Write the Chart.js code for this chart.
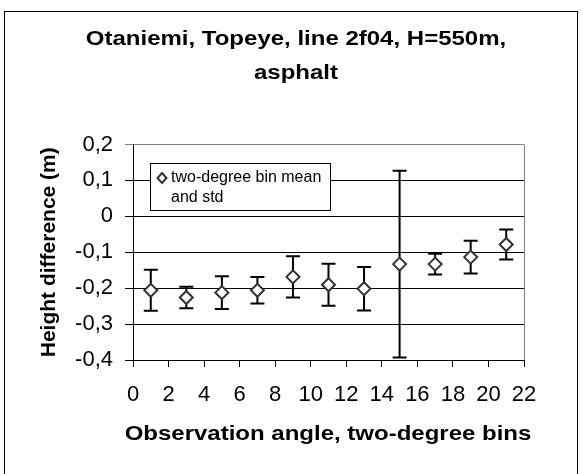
<!DOCTYPE html>
<html>
<head>
<meta charset="utf-8">
<script src="https://cdn.jsdelivr.net/npm/chart.js@4.4.1/dist/chart.umd.min.js"></script>
<style>
  body { margin: 0; background: #fff; }
  #myChart { display: block; }
</style>
</head>
<body>
<canvas id="myChart" width="583" height="474"></canvas>
<script>
const angles = [1, 3, 5, 7, 9, 11, 13, 15, 17, 19, 21];
const meanDiff = [-0.206, -0.226, -0.2125, -0.206, -0.1685, -0.1905, -0.2015, -0.133, -0.133, -0.1135, -0.0785];
const stdDiff = [0.057, 0.030, 0.0455, 0.037, 0.0575, 0.0585, 0.0605, 0.260, 0.029, 0.0455, 0.0415];

const titleLines = ['Otaniemi, Topeye, line 2f04, H=550m,', 'asphalt'];
const legendLines = ['two-degree bin mean', 'and std'];
const xTitle = 'Observation angle, two-degree bins';
const yTitle = 'Height difference (m)';

const fontFam = 'Arial, "Liberation Sans", sans-serif';

const points = angles.map(function (a, i) {
  return { x: a, y: meanDiff[i] };
});

function fmtComma(v) {
  if (Math.abs(v) < 1e-9) return '0';
  return v.toFixed(1).replace('.', ',');
}

// the source picture is a bit wider than tall, so text is stretched sideways
function wideText(c, txt, cx, cy) {
  c.save();
  c.translate(cx, cy);
  c.scale(1.2, 1);
  c.fillText(txt, 0, 0);
  c.restore();
}

const errorBars = {
  id: 'errorBars',
  beforeDatasetsDraw(chart) {
    const c = chart.ctx;
    const xs = chart.scales.x, ys = chart.scales.y;
    c.save();
    c.strokeStyle = '#000';
    c.lineWidth = 2;
    angles.forEach(function (a, i) {
      const px = xs.getPixelForValue(a);
      const top = ys.getPixelForValue(meanDiff[i] + stdDiff[i]);
      const bot = ys.getPixelForValue(meanDiff[i] - stdDiff[i]);
      c.beginPath();
      c.moveTo(px, top); c.lineTo(px, bot);
      c.moveTo(px - 7, top); c.lineTo(px + 7, top);
      c.moveTo(px - 7, bot); c.lineTo(px + 7, bot);
      c.stroke();
    });
    c.restore();
  },
  afterDraw(chart) {
    const c = chart.ctx;
    const a = chart.chartArea;
    c.save();
    // gray frame on the right
    c.strokeStyle = '#808080';
    c.lineWidth = 1;
    c.beginPath();
    c.moveTo(Math.round(a.right) + 0.5, a.top);
    c.lineTo(Math.round(a.right) + 0.5, a.bottom);
    c.stroke();
    // legend box
    c.fillStyle = '#fff';
    c.fillRect(150.5, 163.5, 180, 47);
    c.strokeStyle = '#000';
    c.strokeRect(150.5, 163.5, 180, 47);
    c.beginPath();
    c.moveTo(162, 173); c.lineTo(166.5, 178); c.lineTo(162, 183); c.lineTo(157.5, 178); c.closePath();
    c.fillStyle = '#fff'; c.fill();
    c.strokeStyle = '#333'; c.lineWidth = 2; c.stroke();
    c.fillStyle = '#000';
    c.font = '16px ' + fontFam;
    c.textBaseline = 'middle';
    c.textAlign = 'left';
    c.fillText(legendLines[0], 171, 178);
    c.fillText(legendLines[1], 171, 198);
    // chart title and x title
    c.font = 'bold 20px ' + fontFam;
    c.textAlign = 'center';
    wideText(c, titleLines[0], 296, 39);
    wideText(c, titleLines[1], 296, 73);
    wideText(c, xTitle, 328, 434);
    // outer frame
    c.strokeStyle = '#000';
    c.lineWidth = 1;
    c.strokeRect(4.5, 11.5, 573, 500);
    c.restore();
  }
};

new Chart(document.getElementById('myChart'), {
  type: 'scatter',
  data: {
    datasets: [{
      label: legendLines.join(' '),
      data: points,
      pointStyle: 'rectRot',
      pointRadius: 6.5,
      pointHoverRadius: 6.5,
      pointBackgroundColor: '#fff',
      pointBorderColor: '#333',
      pointBorderWidth: 2,
      showLine: false
    }]
  },
  options: {
    responsive: false,
    animation: false,
    layout: { padding: { left: 0, right: 59, top: 144.5, bottom: 0 } },
    plugins: {
      legend: { display: false },
      tooltip: { enabled: false },
      title: { display: false }
    },
    scales: {
      x: {
        type: 'linear',
        min: 0,
        max: 22,
        ticks: {
          stepSize: 2,
          color: '#000',
          padding: 15,
          maxRotation: 0,
          autoSkip: false,
          font: { family: fontFam, size: 22 }
        },
        grid: { drawOnChartArea: false, drawTicks: true, tickLength: 7, color: '#000' },
        border: { color: '#000', width: 1 },
        afterFit(scale) { scale.height = 114; }
      },
      y: {
        min: -0.4,
        max: 0.2,
        ticks: {
          stepSize: 0.1,
          color: '#000',
          padding: 12,
          font: { family: fontFam, size: 22 },
          callback: function (v) { return fmtComma(v); }
        },
        grid: {
          tickLength: 8,
          color: function (ctx) {
            return ctx.tick && Math.abs(ctx.tick.value - 0.2) < 1e-9 ? '#808080' : '#000';
          }
        },
        border: { color: '#000', width: 1 },
        title: {
          display: true,
          text: yTitle,
          color: '#000',
          font: { family: fontFam, size: 21, weight: 'bold' },
          padding: { top: 37, bottom: 0 }
        },
        afterFit(scale) { scale.width = 133; }
      }
    }
  },
  plugins: [errorBars]
});
</script>
</body>
</html>
